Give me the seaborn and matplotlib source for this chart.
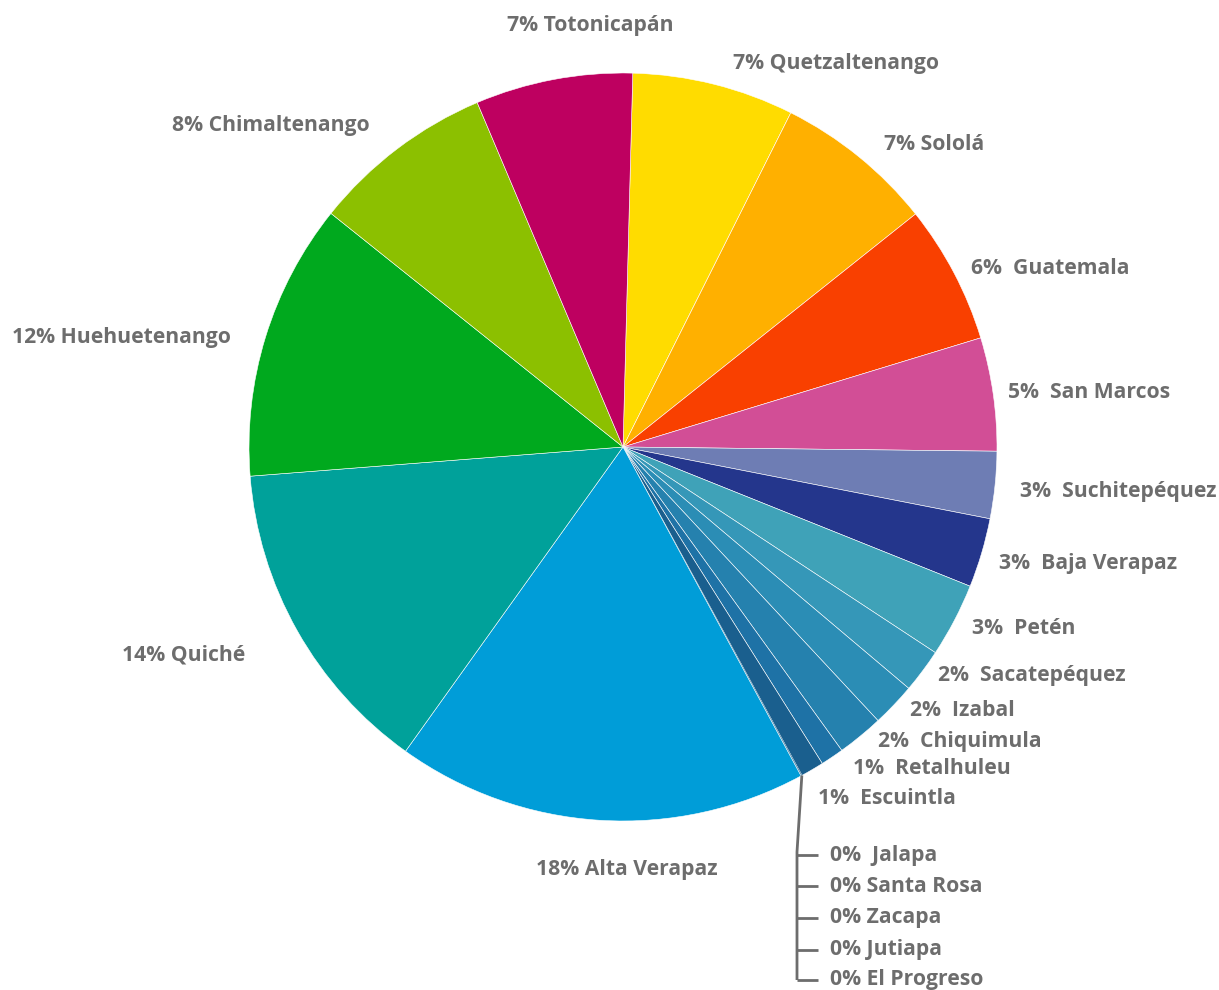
import numpy as np
import seaborn as sns
import matplotlib.pyplot as plt

# departments in clockwise order, starting just right of 12 o'clock
departments = ["Quetzaltenango", "Sololá", "Guatemala", "San Marcos", "Suchitepéquez",
               "Baja Verapaz", "Petén", "Sacatepéquez", "Izabal", "Chiquimula",
               "Retalhuleu", "Escuintla", "Jalapa", "Santa Rosa", "Zacapa", "Jutiapa",
               "El Progreso", "Alta Verapaz", "Quiché", "Huehuetenango",
               "Chimaltenango", "Totonicapán"]
shares = [7.0, 6.9, 6.0, 4.9, 2.9, 3.0, 3.2, 1.9, 1.9, 2.0, 1.0, 1.0,
          0.01, 0.01, 0.01, 0.01, 0.01, 17.8, 13.9, 12.0, 7.9, 6.8]
colors = ["#FFDC00", "#FFB000", "#F94000", "#D24E96", "#6E7DB4",
          "#24368C", "#3FA2B8", "#3597B8", "#2B8DB5", "#2581AE",
          "#1E72A6", "#1A5F8E", "#1A5F8E", "#1A5F8E", "#1A5F8E", "#1A5F8E",
          "#1A5F8E", "#009DD8", "#00A19A", "#00A91E", "#8CC000", "#BE0060"]

# label layout: left edge / vertical centre in pixels, and gap after the percent
label_px = [(733, 63), (884, 145), (971, 268), (1008, 392), (1020, 492),
            (999, 563), (972, 628), (938, 675), (910, 711), (878, 741),
            (853, 769), (818, 798), (830, 855), (830, 886), (830, 918), (830, 950),
            (830, 980), (536, 870), (122, 655), (12, 337), (172, 125), (507, 25)]
gaps = [" ", " ", "  ", "  ", "  ", "  ", "  ", "  ", "  ", "  ", "  ", "  ",
        "  ", " ", " ", " ", " ", " ", " ", " ", " ", " "]

W, H = 1219, 990
CX, CY, R = 623, 447, 374


def to_data(px, py):
    return (px - CX) / R, (CY - py) / R


sns.set_theme(style="white")
plt.rcParams["font.family"] = ["Open Sans", "DejaVu Sans"]

fig = plt.figure(figsize=(W / 100, H / 100), dpi=100)
ax = fig.add_axes([0, 0, 1, 1])

edge_w = [0 if round(v) == 0 else 0.4 for v in shares]
wedges, _ = ax.pie(shares, colors=colors, startangle=88.5, counterclock=False,
                   radius=1, wedgeprops=dict(linewidth=0))
for w, lw in zip(wedges, edge_w):
    w.set_edgecolor("white")
    w.set_linewidth(lw)

ax.set_xlim(-CX / R, (W - CX) / R)
ax.set_ylim((CY - H) / R, CY / R)
ax.axis("off")

grey = "#6D6D6D"
for name, v, (px, py), g in zip(departments, shares, label_px, gaps):
    x, y = to_data(px, py)
    ax.text(x, y, f"{round(v)}%{g}{name}", ha="left", va="center",
            fontsize=15.2, fontweight="bold", color=grey)

# leader line for the zero-share departments
zero_idx = [i for i, v in enumerate(shares) if round(v) == 0]
ang = np.deg2rad(wedges[zero_idx[0]].theta1)
sx, sy = np.cos(ang), np.sin(ang)
bx, by_top = to_data(797, 852)
_, by_bot = to_data(797, 980)
ax.plot([sx, bx, bx], [sy, by_top, by_bot], color=grey, lw=2, solid_capstyle="butt")
for i in zero_idx:
    _, ty = to_data(0, label_px[i][1])
    tx, _ = to_data(818, 0)
    ax.plot([bx, tx], [ty, ty], color=grey, lw=2, solid_capstyle="butt")

fig.savefig("out.png", dpi=100)
